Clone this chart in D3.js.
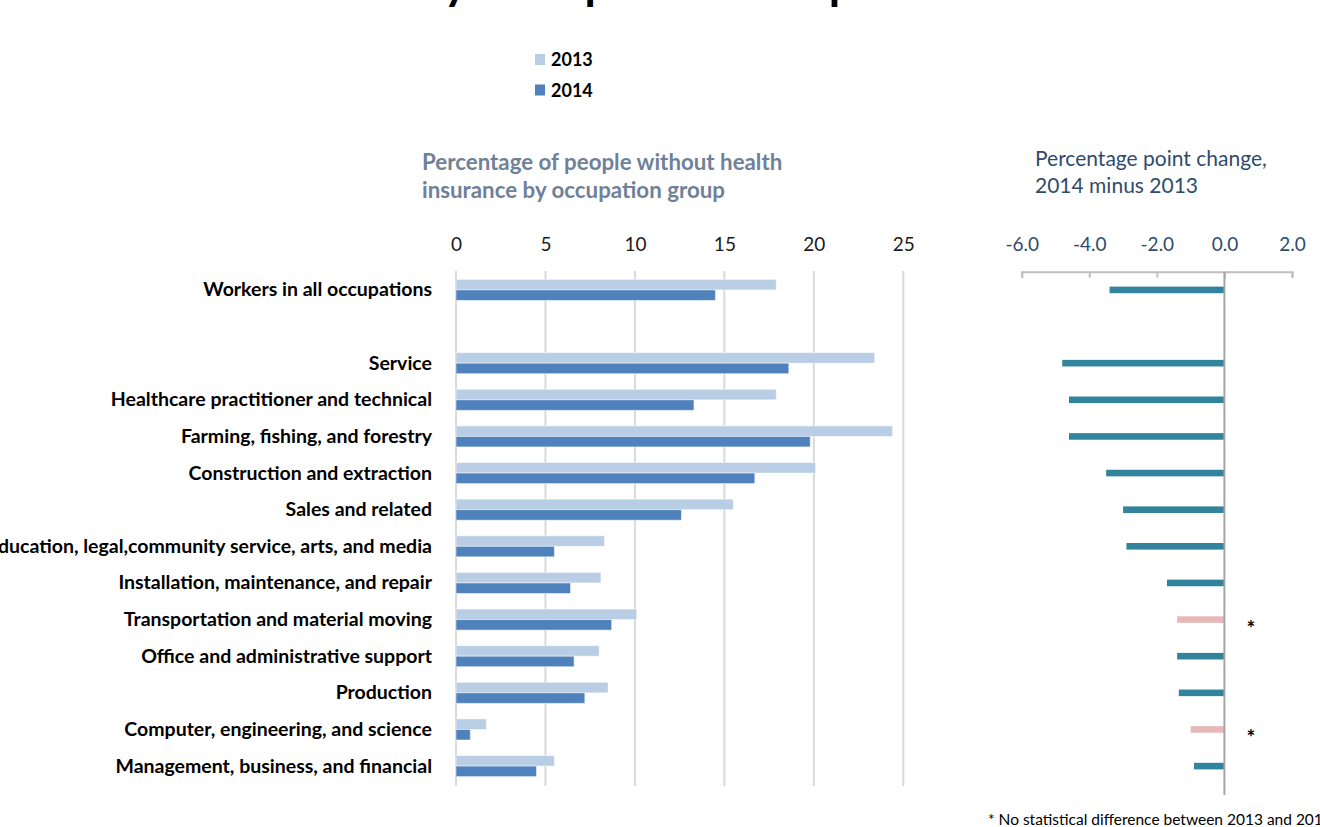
<!DOCTYPE html>
<html>
<head>
<meta charset="utf-8">
<script src="https://cdn.jsdelivr.net/npm/d3@7"></script>
<style>
  body { margin: 0; background: #fff; }
  svg { font-family: Lato, "Open Sans", sans-serif; }
</style>
</head>
<body>
<svg id="chart" width="1320" height="827"></svg>
<script>
const categories = [
  "Workers in all occupations",
  "Service",
  "Healthcare practitioner and technical",
  "Farming, fishing, and forestry",
  "Construction and extraction",
  "Sales and related",
  "Education, legal,community service, arts, and media",
  "Installation, maintenance, and repair",
  "Transportation and material moving",
  "Office and administrative support",
  "Production",
  "Computer, engineering, and science",
  "Management, business, and financial"
];
const pct2013 = [17.9, 23.4, 17.9, 24.4, 20.1, 15.5, 8.3, 8.1, 10.1, 8.0, 8.5, 1.7, 5.5];
const pct2014 = [14.5, 18.6, 13.3, 19.8, 16.7, 12.6, 5.5, 6.4, 8.7, 6.6, 7.2, 0.8, 4.5];
const change = [-3.4, -4.8, -4.6, -4.6, -3.5, -3.0, -2.9, -1.7, -1.4, -1.4, -1.35, -1.0, -0.9];
const notSignificant = [false, false, false, false, false, false, false, false, true, false, false, true, false];
const years = ["2013", "2014"];
const pctTicks = [0, 5, 10, 15, 20, 25];
const changeTicks = [-6, -4, -2, 0, 2];

const yearColor = d3.scaleOrdinal().domain(years).range(["#b9cde5", "#4f81bd"]);
const svg = d3.select("#chart");

// row slots: first row, an empty gap, then the occupation groups
const rows = [categories[0], "", ...categories.slice(1)];
const y = d3.scaleBand().domain(rows).range([271.6, 784.4]);
const x = d3.scaleLinear().domain([0, 25]).range([456, 903.3]);
const xc = d3.scaleLinear().domain([-6, 2]).range([1021.7, 1292]);
const barH = y.step() * 0.287;
const chgH = y.step() * 0.18;
const mid = d => y(d) + y.step() / 2;

// top title (mostly outside the frame)
const title = svg.append("text")
  .attr("y", -1)
  .attr("font-size", 46)
  .attr("font-weight", 700)
  .attr("fill", "#000")
  .text("Uninsured Rate by Occupation Group");
{
  const t = title.node();
  const idx = t.textContent.indexOf("by") + 1;
  const off = t.getSubStringLength(0, idx) + t.getSubStringLength(idx, 1) / 2;
  title.attr("x", 455 - off);
}

// legend
const legend = svg.selectAll(".legend").data(years).join("g")
  .attr("class", "legend")
  .attr("transform", (d, i) => `translate(535,${54 + i * 30.5})`);
legend.append("rect").attr("width", 10).attr("height", 11).attr("fill", d => yearColor(d));
legend.append("text").attr("x", 16).attr("y", 12)
  .attr("font-size", 18).attr("font-weight", 700).text(d => d);

// panel titles
svg.append("text")
  .attr("font-size", 22.3).attr("font-weight", 700).attr("fill", "#6f8199")
  .selectAll("tspan")
  .data(["Percentage of people without health", "insurance by occupation group"])
  .join("tspan").attr("x", 422).attr("y", (d, i) => 170 + i * 28).text(d => d);

svg.append("text")
  .attr("font-size", 21).attr("fill", "#2f4b6d")
  .selectAll("tspan")
  .data(["Percentage point change,", "2014 minus 2013"])
  .join("tspan").attr("x", 1035).attr("y", (d, i) => 166 + i * 27).text(d => d);

// left panel: gridlines and tick labels
svg.append("g").selectAll("line").data(pctTicks).join("line")
  .attr("x1", d => x(d)).attr("x2", d => x(d))
  .attr("y1", 271).attr("y2", 786)
  .attr("stroke", "#d9d9d9").attr("stroke-width", 2);

const xAxis = svg.append("g")
  .attr("transform", "translate(0,251)")
  .call(d3.axisTop(x).tickValues(pctTicks).tickSize(0).tickPadding(0));
xAxis.select(".domain").remove();
xAxis.selectAll("text").attr("font-size", 19).attr("fill", "#1a1a1a")
  .attr("font-family", "Lato, 'Open Sans', sans-serif");

// left panel bars
const groups = svg.append("g").selectAll("g").data(categories).join("g")
  .attr("transform", d => `translate(0,${mid(d) - barH})`);
[pct2013, pct2014].forEach((vals, k) => {
  groups.append("rect")
    .attr("x", x(0))
    .attr("y", k * barH)
    .attr("width", (d, i) => x(vals[i]) - x(0))
    .attr("height", barH)
    .attr("fill", yearColor(years[k]))
    .attr("stroke", "#fff").attr("stroke-opacity", 0.5).attr("stroke-width", 1);
});

// category labels
svg.append("g").selectAll("text").data(categories).join("text")
  .attr("x", 432).attr("y", d => mid(d) + 6.5)
  .attr("text-anchor", "end")
  .attr("font-size", 19.5).attr("font-weight", 700).attr("fill", "#000")
  .text(d => d);

// right panel axis
const cAxis = svg.append("g")
  .attr("transform", "translate(0,271.7)")
  .call(d3.axisTop(xc).tickValues(changeTicks).tickSizeInner(-6).tickSizeOuter(-6)
    .tickPadding(21).tickFormat(d => d.toFixed(1)));
cAxis.selectAll("path, line").attr("stroke", "#bfbfbf").attr("stroke-width", 2);
cAxis.selectAll("text").attr("font-size", 19).attr("fill", "#2f4b6d")
  .attr("font-family", "Lato, 'Open Sans', sans-serif");

// right panel bars
svg.append("g").selectAll("rect").data(categories).join("rect")
  .attr("x", (d, i) => xc(change[i]))
  .attr("y", d => mid(d) - chgH / 2)
  .attr("width", (d, i) => xc(0) - xc(change[i]))
  .attr("height", chgH)
  .attr("fill", (d, i) => notSignificant[i] ? "#e6b9b8" : "#31849b");

svg.append("line")
  .attr("x1", xc(0)).attr("x2", xc(0))
  .attr("y1", 271.7).attr("y2", 795)
  .attr("stroke", "#a6a6a6").attr("stroke-width", 2);

svg.append("g").selectAll("text")
  .data(categories.filter((d, i) => notSignificant[i])).join("text")
  .attr("x", 1251).attr("y", d => mid(d) + 16)
  .attr("text-anchor", "middle")
  .attr("font-size", 21).attr("font-weight", 700)
  .text("*");

// footnote
svg.append("text")
  .attr("x", 988).attr("y", 825)
  .attr("font-size", 15.5).attr("fill", "#000")
  .text("* No statistical difference between 2013 and 2014");
</script>
</body>
</html>
